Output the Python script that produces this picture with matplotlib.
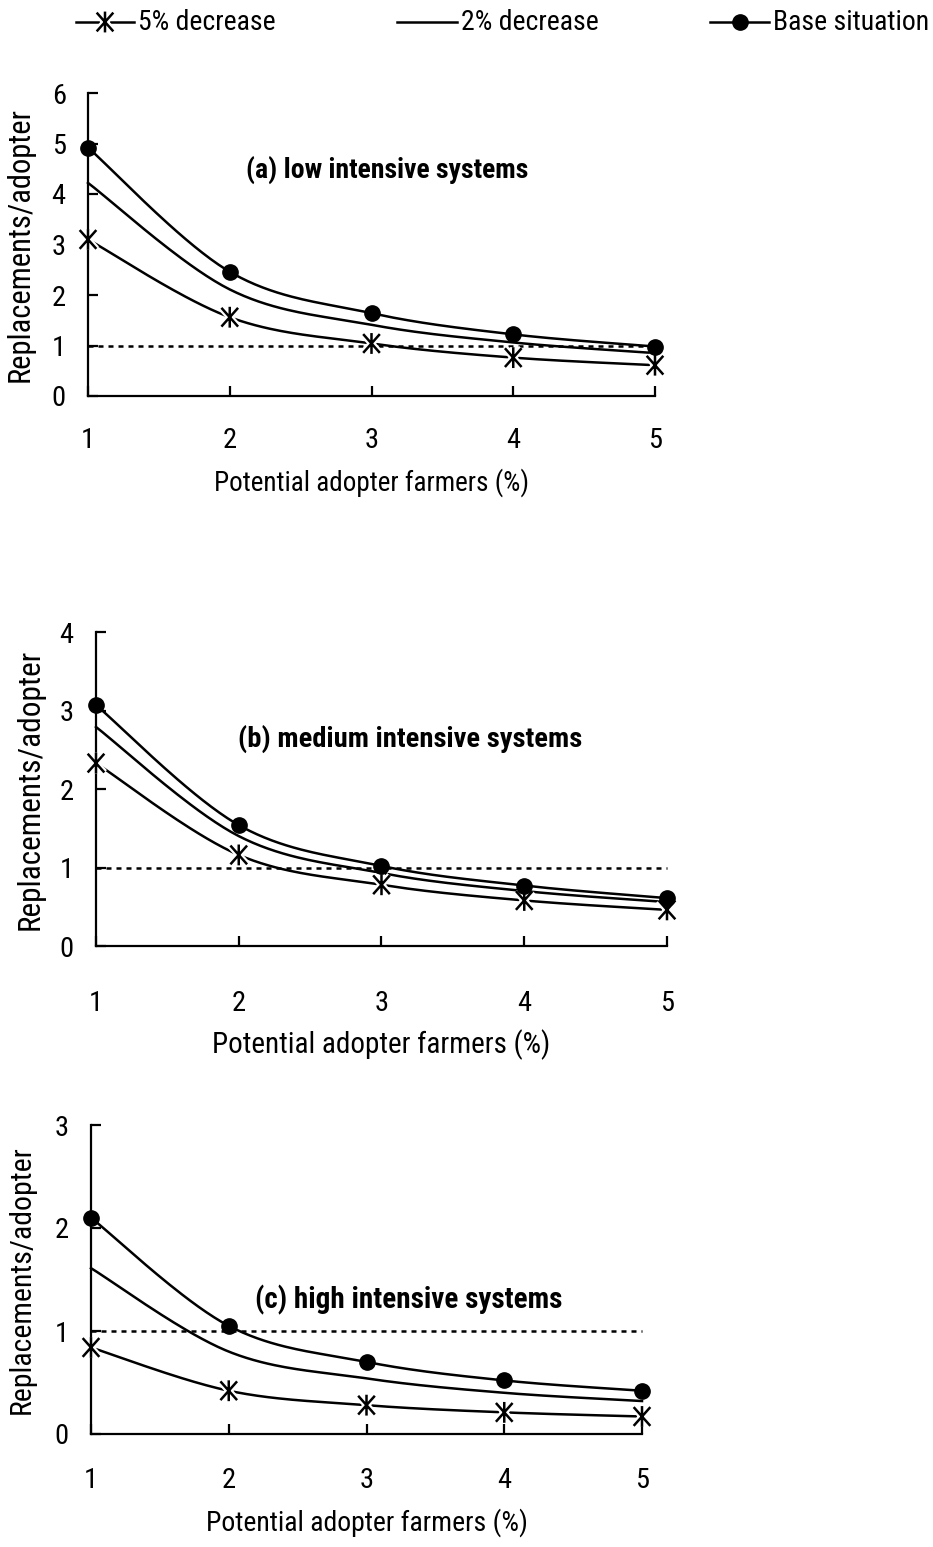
import matplotlib
matplotlib.use("Agg")
import matplotlib.pyplot as plt
import matplotlib.patheffects as pe
from matplotlib.path import Path
import numpy as np

plt.rcParams['font.family'] = ['Roboto Condensed', 'Liberation Sans', 'DejaVu Sans']

# data
x_pct = [1, 2, 3, 4, 5]

low_base = [4.92, 2.46, 1.64, 1.22, 0.98]
low_two = [4.22, 2.11, 1.41, 1.06, 0.85]
low_five = [3.10, 1.56, 1.04, 0.76, 0.61]

med_base = [3.07, 1.54, 1.02, 0.77, 0.61]
med_two = [2.79, 1.40, 0.93, 0.70, 0.56]
med_five = [2.33, 1.16, 0.78, 0.58, 0.46]

high_base = [2.10, 1.05, 0.70, 0.52, 0.42]
high_two = [1.61, 0.80, 0.54, 0.40, 0.32]
high_five = [0.84, 0.42, 0.28, 0.21, 0.17]

threshold = 1.0

titles = ['(a) low intensive systems', '(b) medium intensive systems', '(c) high intensive systems']
y_tops = [6, 4, 3]
legend_labels = ['5% decrease', '2% decrease', 'Base situation']

W, H = 933, 1547
fig = plt.figure(figsize=(W / 100, H / 100), dpi=100)

# pixel boxes: left, right, y of zero, y of top
boxes = [(88, 655, 396, 93), (96, 667, 946, 632), (91, 642, 1434, 1125)]
title_pos = [(387, 170), (410, 739), (409, 1300)]
title_fs = [20, 20.5, 21]
ylab_x = [20, 30, 22]
ylab_fs = [22, 22.5, 21.5]
xlab_y = [483, 1045, 1523]
xlab_fs = [19.5, 21, 20]
tick_pad = [22, 32, 24]

LW = 1.8
# X with a vertical bar through it
star = Path([(0, -1), (0, 1), (-0.8, -0.9), (0.8, 0.9), (-0.8, 0.9), (0.8, -0.9)],
            [Path.MOVETO, Path.LINETO] * 3)
halo = [pe.Stroke(linewidth=5, foreground='white'), pe.Normal()]


def smooth(xs, ys, n=40):
    # bezier smoothing like a spreadsheet "smoothed line"
    pts = np.column_stack([xs, ys]).astype(float)
    ext = np.vstack([pts[0], pts, pts[-1]])
    t = np.linspace(0, 1, n)[1:, None]
    out = [pts[:1]]
    for i in range(len(pts) - 1):
        p0, p3 = ext[i + 1], ext[i + 2]
        c1 = p0 + (ext[i + 2] - ext[i]) / 6
        c2 = p3 - (ext[i + 3] - ext[i + 1]) / 6
        out.append((1 - t) ** 3 * p0 + 3 * (1 - t) ** 2 * t * c1
                   + 3 * (1 - t) * t ** 2 * c2 + t ** 3 * p3)
    s = np.vstack(out)
    return s[:, 0], s[:, 1]


panels = [(low_base, low_two, low_five), (med_base, med_two, med_five),
          (high_base, high_two, high_five)]

for k, (base, two, five) in enumerate(panels):
    l, r, y0, y1 = boxes[k]
    ax = fig.add_axes([l / W, 1 - y0 / H, (r - l) / W, (y0 - y1) / H])
    ax.set_xlim(1, 5)
    ax.set_ylim(0, y_tops[k])
    for s in ['top', 'right']:
        ax.spines[s].set_visible(False)
    for s in ['left', 'bottom']:
        ax.spines[s].set_linewidth(1.6)
    ax.set_xticks(x_pct)
    ax.set_yticks(range(y_tops[k] + 1))
    ax.tick_params(direction='in', length=7, width=1.6, labelsize=20.5, pad=tick_pad[k])
    ax.tick_params(axis='y', pad=16)

    ax.plot([x_pct[0], x_pct[-1]], [threshold, threshold], color='black', lw=LW,
            linestyle=(0, (2, 2)), clip_on=False, zorder=2)
    for ys in (base, two, five):
        sx, sy = smooth(x_pct, ys)
        ax.plot(sx, sy, color='black', lw=LW, clip_on=False, zorder=3)
    ax.plot(x_pct, five, linestyle='none', marker=star, markersize=15, mew=1.8,
            color='black', clip_on=False, zorder=4, path_effects=halo)
    ax.plot(x_pct, base, linestyle='none', marker='o', markersize=11,
            color='black', clip_on=False, zorder=5)

    fig.text(title_pos[k][0] / W, 1 - title_pos[k][1] / H, titles[k], fontsize=title_fs[k],
             fontweight='bold', ha='center', va='center')
    fig.text(ylab_x[k] / W, 1 - (y0 + y1) / 2 / H, 'Replacements/adopter', fontsize=ylab_fs[k],
             rotation=90, ha='center', va='center')
    fig.text((l + r) / 2 / W, 1 - xlab_y[k] / H, 'Potential adopter farmers (%)',
             fontsize=xlab_fs[k], ha='center', va='center')

# legend row across the top
lax = fig.add_axes([0, 0, 1, 1])
lax.set_xlim(0, W)
lax.set_ylim(H, 0)
lax.axis('off')
ly = 22
items = [(76, 134, star), (397, 457, None), (710, 769, 'o')]
for (a, b, m), lab in zip(items, legend_labels):
    lax.plot([a, b], [ly, ly], color='black', lw=LW)
    if m is star:
        lax.plot([(a + b) / 2], [ly], marker=star, markersize=15, mew=1.8,
                 color='black', path_effects=halo)
    elif m == 'o':
        lax.plot([(a + b) / 2], [ly], marker='o', markersize=11, color='black')
    lax.text(b + 4, ly, lab, fontsize=20, ha='left', va='center')

fig.savefig('out.png', dpi=100)
